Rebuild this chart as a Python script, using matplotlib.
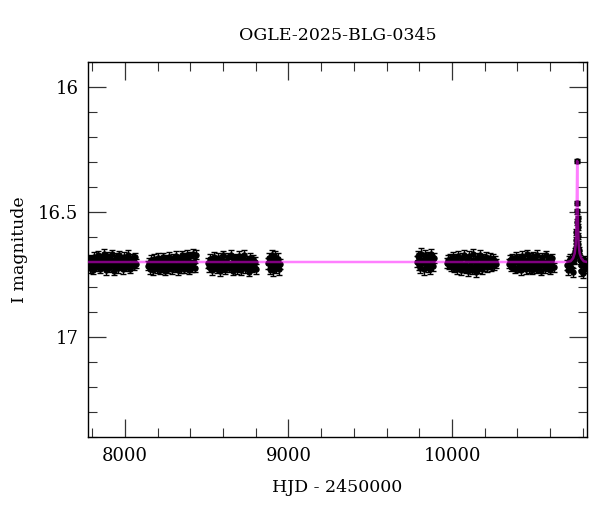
import numpy as np
import matplotlib
matplotlib.use("Agg")
import matplotlib.pyplot as plt
from matplotlib.ticker import MultipleLocator, FuncFormatter

# season 1
s1_hjd = [7778, 7784, 7790, 7795, 7801, 7807, 7813, 7818, 7824, 7830,
          7836, 7842, 7847, 7853, 7859, 7865, 7871, 7876, 7882, 7888,
          7894, 7900, 7905, 7911, 7917, 7923, 7929, 7934, 7940, 7946,
          7952, 7958, 7963, 7969, 7975, 7981, 7987, 7993, 7999, 8005,
          8011, 8018, 8025, 8033, 8041, 8049, 8057, 8064, 8071]
s1_mag = [16.712, 16.695, 16.724, 16.688, 16.705, 16.731, 16.679, 16.701, 16.718, 16.690,
          16.672, 16.709, 16.727, 16.684, 16.698, 16.715, 16.667, 16.703, 16.733, 16.692,
          16.676, 16.711, 16.722, 16.686, 16.700, 16.669, 16.716, 16.735, 16.694, 16.681,
          16.707, 16.725, 16.673, 16.699, 16.713, 16.688, 16.729, 16.678, 16.704, 16.719,
          16.691, 16.670, 16.708, 16.726, 16.685, 16.697, 16.714, 16.680, 16.706]

# season 2
s2_hjd = [8143, 8148, 8154, 8160, 8166, 8172, 8178, 8184, 8189, 8195,
          8201, 8207, 8213, 8219, 8225, 8230, 8236, 8242, 8248, 8254,
          8260, 8266, 8271, 8277, 8283, 8289, 8295, 8301, 8307, 8312,
          8318, 8324, 8330, 8336, 8342, 8348, 8353, 8359, 8365, 8371,
          8377, 8383, 8389, 8394, 8400, 8406, 8412, 8418, 8424, 8430,
          8437]
s2_mag = [16.715, 16.702, 16.728, 16.690, 16.709, 16.733, 16.686, 16.719, 16.697, 16.725,
          16.683, 16.711, 16.731, 16.694, 16.706, 16.722, 16.680, 16.713, 16.735, 16.689,
          16.700, 16.726, 16.678, 16.716, 16.693, 16.729, 16.684, 16.707, 16.721, 16.675,
          16.712, 16.732, 16.688, 16.699, 16.724, 16.673, 16.710, 16.727, 16.682, 16.704,
          16.718, 16.670, 16.696, 16.730, 16.677, 16.708, 16.720, 16.666, 16.701, 16.723,
          16.671]

# season 3
s3_hjd = [8509, 8515, 8521, 8527, 8533, 8539, 8545, 8551, 8557, 8563,
          8569, 8575, 8581, 8587, 8593, 8599, 8605, 8611, 8617, 8623,
          8629, 8635, 8641, 8647, 8653, 8659, 8665, 8671, 8677, 8683,
          8689, 8695, 8701, 8707, 8713, 8719, 8725, 8731, 8737, 8743,
          8749, 8755, 8761, 8767, 8773, 8779, 8785, 8791, 8797, 8804]
s3_mag = [16.704, 16.721, 16.688, 16.713, 16.732, 16.695, 16.679, 16.717, 16.708, 16.726,
          16.684, 16.699, 16.736, 16.712, 16.690, 16.673, 16.719, 16.729, 16.697, 16.706,
          16.681, 16.723, 16.714, 16.670, 16.702, 16.734, 16.691, 16.716, 16.685, 16.727,
          16.709, 16.676, 16.720, 16.698, 16.731, 16.687, 16.711, 16.672, 16.725, 16.703,
          16.694, 16.718, 16.738, 16.683, 16.707, 16.722, 16.689, 16.715, 16.700, 16.728]

# season 4
s4_hjd = [8876, 8881, 8886, 8891, 8896, 8901, 8906, 8911, 8916, 8921, 8926, 8931, 8936, 8941, 8946]
s4_mag = [16.705, 16.684, 16.726, 16.697, 16.716, 16.672, 16.733, 16.690, 16.711, 16.679,
          16.722, 16.701, 16.687, 16.729, 16.708]

# season 5
s5_hjd = [9785, 9790, 9796, 9801, 9807, 9812, 9818, 9823, 9829, 9834,
          9840, 9845, 9851, 9856, 9862, 9867, 9873, 9878, 9884, 9889]
s5_mag = [16.698, 16.675, 16.712, 16.684, 16.722, 16.666, 16.705, 16.691, 16.729, 16.671,
          16.709, 16.688, 16.718, 16.679, 16.700, 16.726, 16.668, 16.694, 16.714, 16.683]

# season 6
s6_hjd = [9972, 9978, 9984, 9990, 9996, 10002, 10008, 10014, 10020, 10026,
          10032, 10038, 10044, 10050, 10056, 10062, 10068, 10074, 10080, 10086,
          10092, 10098, 10104, 10110, 10116, 10122, 10128, 10134, 10140, 10146,
          10152, 10158, 10164, 10170, 10176, 10182, 10188, 10194, 10200, 10206,
          10212, 10218, 10224, 10230, 10236, 10242, 10248, 10254, 10260, 10267]
s6_mag = [16.703, 16.692, 16.711, 16.686, 16.717, 16.695, 16.679, 16.722, 16.706, 16.688,
          16.728, 16.674, 16.713, 16.699, 16.733, 16.682, 16.719, 16.670, 16.708, 16.726,
          16.690, 16.736, 16.676, 16.714, 16.701, 16.730, 16.668, 16.720, 16.693, 16.741,
          16.684, 16.711, 16.725, 16.672, 16.705, 16.729, 16.687, 16.716, 16.698, 16.678,
          16.721, 16.694, 16.709, 16.684, 16.718, 16.699, 16.688, 16.712, 16.694, 16.706]

# season 7
s7_hjd = [10350, 10356, 10362, 10368, 10374, 10380, 10386, 10392, 10398, 10404,
          10410, 10416, 10422, 10428, 10434, 10440, 10446, 10452, 10458, 10464,
          10470, 10476, 10482, 10488, 10494, 10500, 10506, 10512, 10518, 10524,
          10530, 10536, 10542, 10548, 10554, 10560, 10566, 10572, 10578, 10584,
          10590, 10596, 10602, 10608, 10614, 10621]
s7_mag = [16.707, 16.690, 16.718, 16.684, 16.713, 16.697, 16.726, 16.679, 16.701, 16.722,
          16.686, 16.710, 16.733, 16.674, 16.704, 16.719, 16.692, 16.729, 16.669, 16.708,
          16.724, 16.683, 16.699, 16.731, 16.676, 16.715, 16.689, 16.727, 16.671, 16.705,
          16.720, 16.694, 16.735, 16.680, 16.711, 16.698, 16.725, 16.673, 16.709, 16.717,
          16.688, 16.730, 16.696, 16.712, 16.684, 16.721]

# season 8 baseline
s8_hjd = [10704, 10709, 10714, 10719, 10724, 10729, 10734, 10739, 10743, 10747,
          10782, 10786, 10790, 10795, 10800, 10805, 10810, 10815, 10819]
s8_mag = [16.712, 16.733, 16.694, 16.718, 16.687, 16.722, 16.701, 16.741, 16.690, 16.684,
          16.690, 16.712, 16.736, 16.698, 16.745, 16.707, 16.724, 16.693, 16.716]

# event points
ev_hjd = [10751, 10754, 10756, 10758, 10759.5, 10761, 10762.5, 10765, 10766.5, 10768,
          10769.5, 10771, 10773, 10776, 10779]
ev_mag = [16.672, 16.655, 16.640, 16.612, 16.580, 16.540, 16.463, 16.296, 16.497, 16.525,
          16.560, 16.595, 16.628, 16.652, 16.668]
ev_err = [0.012, 0.012, 0.012, 0.012, 0.011, 0.011, 0.009, 0.007, 0.010, 0.011,
          0.011, 0.012, 0.012, 0.012, 0.012]

season_err = [0.018, 0.018, 0.019, 0.022, 0.021, 0.019, 0.018, 0.019]

# model curve vertices
model_hjd = [7775, 10700, 10725, 10740, 10750, 10756, 10760, 10762, 10763.5, 10765,
             10766.5, 10768, 10770, 10774, 10780, 10790, 10805, 10825]
model_mag = [16.700, 16.700, 16.697, 16.685, 16.665, 16.630, 16.560, 16.480, 16.390, 16.296,
             16.390, 16.480, 16.560, 16.630, 16.665, 16.685, 16.697, 16.700]

seasons = [(s1_hjd, s1_mag), (s2_hjd, s2_mag), (s3_hjd, s3_mag), (s4_hjd, s4_mag),
           (s5_hjd, s5_mag), (s6_hjd, s6_mag), (s7_hjd, s7_mag), (s8_hjd, s8_mag)]

plt.rcParams['font.family'] = ['DejaVu Serif']

fig = plt.figure(figsize=(6.0, 5.12), dpi=100)
ax = fig.add_axes([88 / 600, 1 - 437 / 512, (587 - 88) / 600, (437 - 62) / 512])

for (t, m), e in zip(seasons, season_err):
    ax.errorbar(t, m, yerr=e, fmt='o', ms=3.6, color='black', ecolor='black',
                elinewidth=1.0, capsize=2.4, capthick=1.0, zorder=2)
ax.errorbar(ev_hjd, ev_mag, yerr=ev_err, fmt='o', ms=3.6, color='black', ecolor='black',
            elinewidth=1.0, capsize=2.4, capthick=1.0, zorder=2)

ax.plot(model_hjd, model_mag, color='magenta', alpha=0.5, lw=1.8, zorder=3)

ax.set_xlim(7775, 10825)
ax.set_ylim(17.4, 15.9)

ax.xaxis.set_major_locator(MultipleLocator(1000))
ax.xaxis.set_minor_locator(MultipleLocator(200))
ax.yaxis.set_major_locator(MultipleLocator(0.5))
ax.yaxis.set_minor_locator(MultipleLocator(0.1))
ax.yaxis.set_major_formatter(FuncFormatter(lambda v, p: '%g' % v))

ax.tick_params(which='both', direction='in', top=True, right=True, labelsize=13, color='#333333')
ax.tick_params(which='major', length=13, width=0.9, pad=7)
ax.tick_params(which='minor', length=6.5, width=0.8)
for s in ax.spines.values():
    s.set_linewidth(1.0)

ax.set_title('OGLE-2025-BLG-0345', fontsize=12.5, pad=16)
ax.set_xlabel('HJD - 2450000', fontsize=12.5, labelpad=10)
ax.set_ylabel('I magnitude', fontsize=12.5, labelpad=7)

fig.savefig('out.png', dpi=100)
